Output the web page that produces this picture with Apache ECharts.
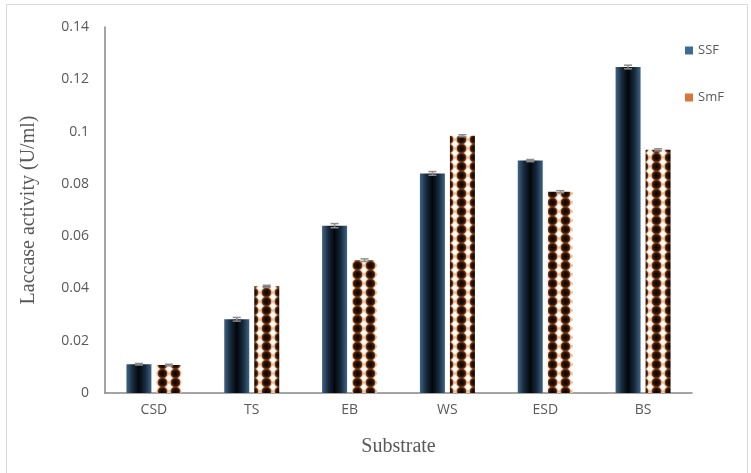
<!DOCTYPE html>
<html>
<head>
<meta charset="utf-8">
<style>
  html, body { margin: 0; padding: 0; background: #fff; }
  #chart { width: 751px; height: 473px; }
</style>
<script src="https://cdn.jsdelivr.net/npm/echarts@6/dist/echarts.min.js"></script>
</head>
<body>
<div id="chart"></div>
<script>
// data
const substrates = ['CSD', 'TS', 'EB', 'WS', 'ESD', 'BS'];
const ssfValues = [0.011, 0.0282, 0.064, 0.084, 0.0889, 0.1247];
const smfValues = [0.0107, 0.0408, 0.0508, 0.0984, 0.077, 0.093];
const ssfErrors = [0.0003, 0.0007, 0.0008, 0.0007, 0.0004, 0.0007];
const smfErrors = [0.0003, 0.0004, 0.0005, 0.0004, 0.0004, 0.0004];
const yTicks = { min: 0, max: 0.14, interval: 0.02 };

// tile for the SmF bars (brown blobs, white diamonds)
function makeTile() {
    const c = document.createElement('canvas');
    c.width = 13;
    c.height = 9;
    const ctx = c.getContext('2d');
    ctx.fillStyle = '#f2c09c';
    ctx.fillRect(0, 0, 13, 9);
    const g = ctx.createRadialGradient(6.5, 4.5, 0.5, 6.5, 4.5, 5.2);
    g.addColorStop(0, '#0e0502');
    g.addColorStop(0.55, '#2e1407');
    g.addColorStop(1, '#9a5428');
    ctx.fillStyle = g;
    ctx.beginPath();
    ctx.ellipse(6.5, 4.5, 4.8, 4.9, 0, 0, Math.PI * 2);
    ctx.fill();
    // white diamonds at the corners
    ctx.fillStyle = '#ffffff';
    [[0, 0], [13, 0], [0, 9], [13, 9]].forEach(p => {
        ctx.beginPath();
        ctx.moveTo(p[0], p[1] - 3.4);
        ctx.lineTo(p[0] + 3, p[1]);
        ctx.lineTo(p[0], p[1] + 3.4);
        ctx.lineTo(p[0] - 3, p[1]);
        ctx.closePath();
        ctx.fill();
    });
    return c;
}

// small error bars on top of each bar
function errorSeries(name, values, errors, offset) {
    return {
        name: name,
        type: 'custom',
        silent: true,
        z: 5,
        data: values.map((v, i) => [i, v - errors[i], v + errors[i]]),
        renderItem: function (params, api) {
            const lo = api.coord([api.value(0), api.value(1)]);
            const hi = api.coord([api.value(0), api.value(2)]);
            const x = lo[0] + offset;
            const w = 4;
            const st = { stroke: '#8c8c8c', lineWidth: 1.5 };
            return {
                type: 'group',
                children: [
                    { type: 'line', shape: { x1: x, y1: lo[1], x2: x, y2: hi[1] }, style: st },
                    { type: 'line', shape: { x1: x - w, y1: hi[1], x2: x + w, y2: hi[1] }, style: st },
                    { type: 'line', shape: { x1: x - w, y1: lo[1], x2: x + w, y2: lo[1] }, style: st }
                ]
            };
        }
    };
}

const chart = echarts.init(document.getElementById('chart'));
const axisColor = '#868686';
const textColor = '#595959';

chart.setOption({
    backgroundColor: '#fff',
    animation: false,
    graphic: [{
        type: 'rect',
        shape: { x: 6.5, y: 4.5, width: 741, height: 480 },
        style: { fill: 'none', stroke: '#d9d9d9', lineWidth: 1 },
        silent: true
    }],
    grid: { left: 105, right: 59, top: 27, bottom: 80 },
    legend: {
        orient: 'vertical',
        left: 680,
        top: 39,
        itemGap: 34,
        itemWidth: 8,
        itemHeight: 8,
        icon: 'rect',
        textStyle: { color: textColor, fontSize: 13, fontFamily: 'Open Sans' },
        data: [
            { name: 'SSF', itemStyle: { color: '#3d6a99' } },
            { name: 'SmF', itemStyle: { color: '#d9743a' } }
        ]
    },
    xAxis: {
        type: 'category',
        data: substrates,
        name: 'Substrate',
        nameLocation: 'middle',
        nameGap: 44,
        nameTextStyle: { color: textColor, fontSize: 20, fontFamily: 'Liberation Serif' },
        axisLine: { lineStyle: { color: axisColor, width: 1.5 } },
        axisTick: { show: false },
        axisLabel: { color: textColor, fontSize: 14, margin: 10, fontFamily: 'Open Sans' }
    },
    yAxis: {
        type: 'value',
        min: yTicks.min,
        max: yTicks.max,
        interval: yTicks.interval,
        name: 'Laccase activity (U/ml)',
        nameLocation: 'middle',
        nameGap: 66,
        nameTextStyle: { color: textColor, fontSize: 20, fontFamily: 'Liberation Serif' },
        axisLine: { show: true, lineStyle: { color: axisColor, width: 1.5 } },
        axisTick: { show: false },
        splitLine: { show: false },
        axisLabel: {
            color: textColor, fontSize: 14, margin: 16, fontFamily: 'Open Sans',
            formatter: v => String(+v.toFixed(2))
        }
    },
    series: [
        {
            name: 'SSF',
            type: 'bar',
            barWidth: 25,
            barGap: '20%',
            data: ssfValues,
            itemStyle: {
                color: new echarts.graphic.LinearGradient(0, 0, 1, 0, [
                    { offset: 0, color: '#3f6385' },
                    { offset: 0.25, color: '#172a3d' },
                    { offset: 0.5, color: '#03060a' },
                    { offset: 0.75, color: '#172a3d' },
                    { offset: 1, color: '#3f6385' }
                ])
            }
        },
        {
            name: 'SmF',
            type: 'bar',
            barWidth: 25,
            barGap: '20%',
            data: smfValues,
            itemStyle: {
                color: { image: makeTile(), repeat: 'repeat' }
            }
        },
        errorSeries('SSF err', ssfValues, ssfErrors, -15),
        errorSeries('SmF err', smfValues, smfErrors, 15)
    ]
});
</script>
</body>
</html>
